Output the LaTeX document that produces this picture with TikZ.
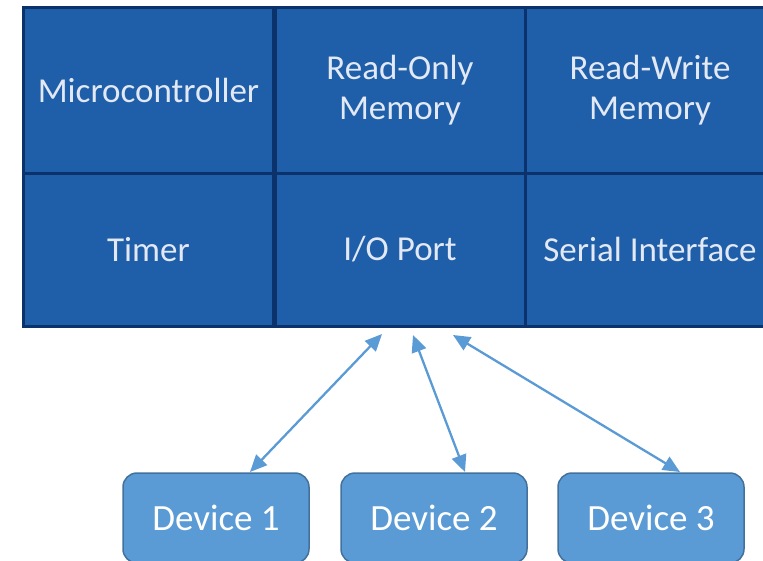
\documentclass[tikz,border=0pt]{standalone}
\usepackage{fontspec}
\setmainfont{Carlito}
\usetikzlibrary{arrows.meta}
\definecolor{cellfill}{RGB}{31,94,168}
\definecolor{cellline}{RGB}{12,50,108}
\definecolor{celltext}{RGB}{226,233,244}
\definecolor{devfill}{RGB}{91,155,213}
\definecolor{devline}{RGB}{65,113,156}
\begin{document}
\begin{tikzpicture}[x=1pt,y=-1pt,
  cell/.style={draw=cellline,line width=3pt,fill=cellfill,text=celltext,
    minimum width=250pt,align=center,inner sep=0pt,
    font=\fontsize{35}{40}\selectfont},
  toprow/.style={cell,minimum height=166pt},
  botrow/.style={cell,minimum height=153pt},
  device/.style={draw=devline,line width=1.5pt,fill=devfill,text=white,
    rounded corners=14pt,minimum width=186pt,minimum height=90pt,
    inner sep=0pt,font=\fontsize{37}{40}\selectfont},
  link/.style={draw=devfill,line width=2.3pt,
    {Triangle[length=17pt,width=15pt]}-{Triangle[length=17pt,width=15pt]}}]
\useasboundingbox (0,0) rectangle (763,560);
\clip (0,0) rectangle (763,560);
% memory map cells
\node[toprow] (mcu) at (148.5,90) {Microcontroller};
\node[toprow] (rom) at (400,90) {Read-Only\\Memory};
\node[toprow] (ram) at (650,90) {Read-Write\\Memory};
\node[botrow] (tmr) at (148.5,249.5) {Timer};
\node[botrow] (io)  at (400,249.5) {I/O Port};
\node[botrow] (ser) at (650,249.5) {Serial Interface};
% devices
\node[device] (d1) at (216,518) {Device 1};
\node[device] (d2) at (434,518) {Device 2};
\node[device] (d3) at (651,518) {Device 3};
% link end points below the I/O port
\coordinate (p1) at (382,334);
\coordinate (p2) at (413,335);
\coordinate (p3) at (453,335);
\coordinate (q1) at (250,472);
\coordinate (q2) at (465,472);
\coordinate (q3) at (680,472);
\draw[link] (p1) -- (q1);
\draw[link] (p2) -- (q2);
\draw[link] (p3) -- (q3);
\end{tikzpicture}
\end{document}
